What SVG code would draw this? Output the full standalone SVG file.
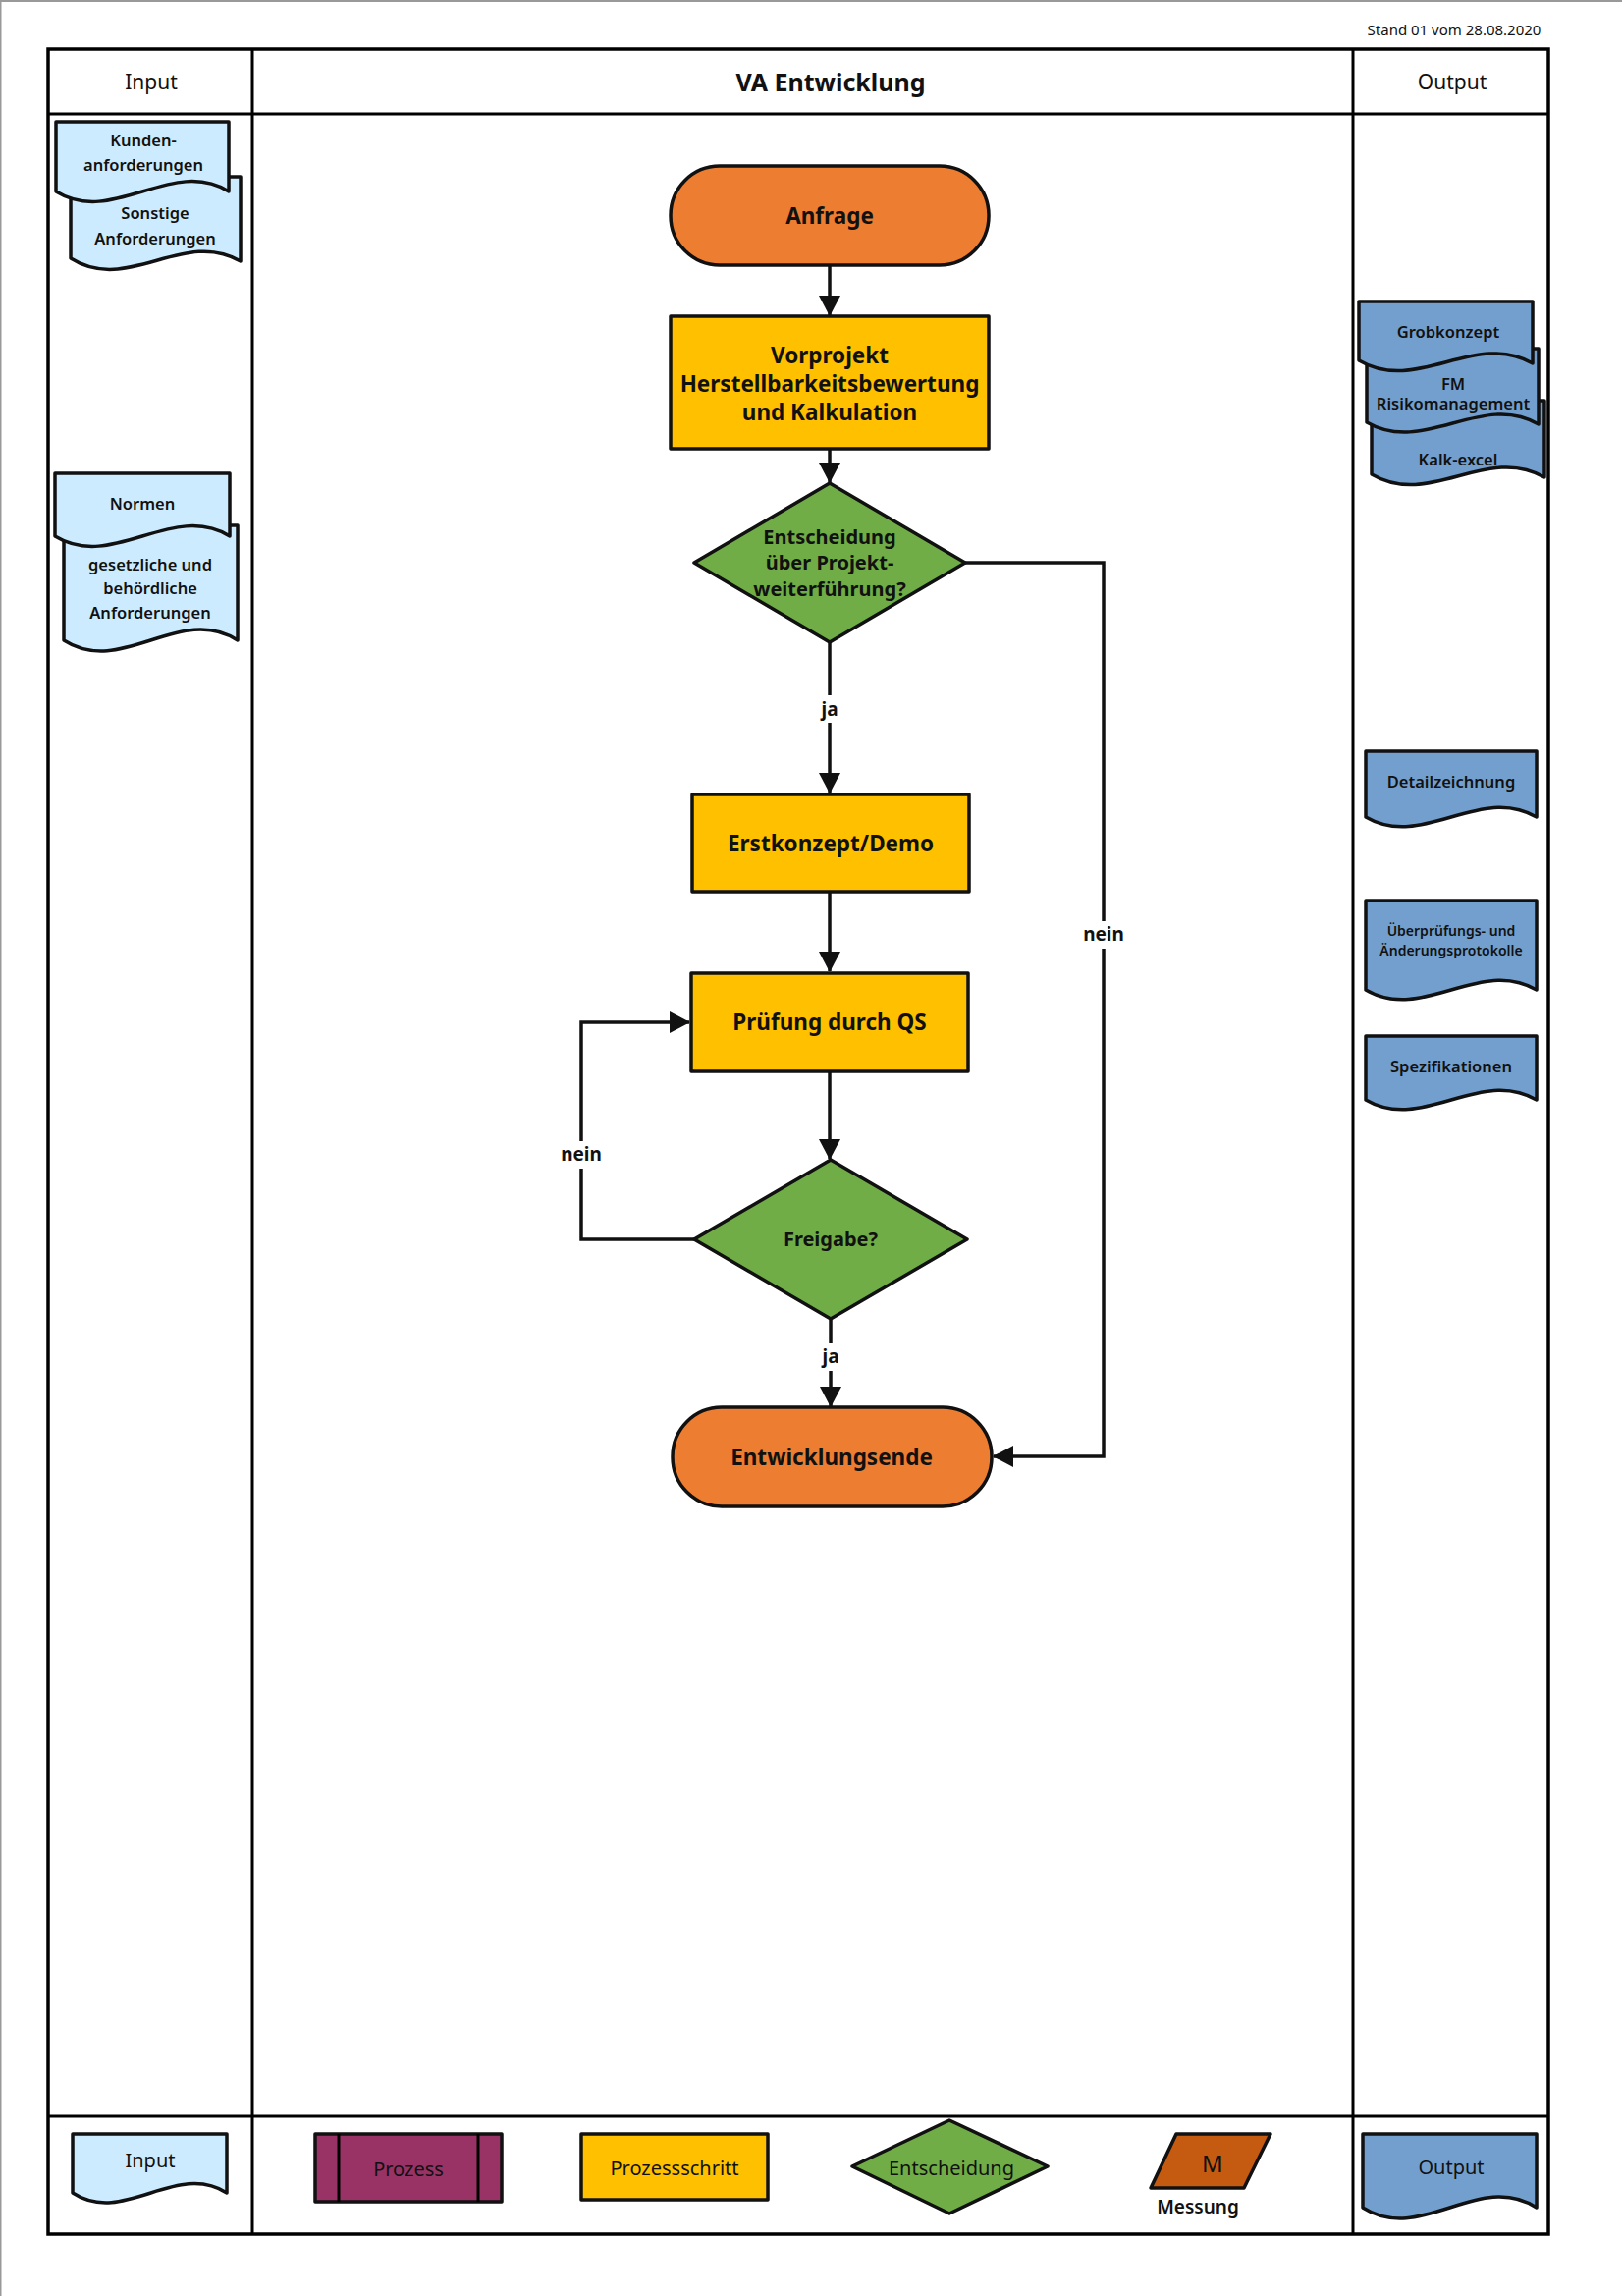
<svg xmlns="http://www.w3.org/2000/svg" width="1652" height="2338" viewBox="0 0 1652 2338">
<defs>
<marker id="arr" markerUnits="userSpaceOnUse" markerWidth="22" markerHeight="22" refX="20" refY="11" orient="auto">
<path d="M0,0 L21,11 L0,22 Z" fill="#111"/>
</marker>
</defs>
<style>
.frame{fill:none;stroke:#000;stroke-width:3.5}
.ln{fill:none;stroke:#000;stroke-width:3}
.node{stroke:#111;stroke-width:3.5;stroke-linejoin:round}
.term{fill:#ED7D31}
.step{fill:#FFC000}
.dec{fill:#70AD47}
.in{fill:#CDEBFF}
.out{fill:#729FCD}
.proc{fill:#993366}
.meas{fill:#C55A11}
.con{fill:none;stroke:#111;stroke-width:3.5}
text{font-family:"Noto Sans","Open Sans","DejaVu Sans",sans-serif;fill:#111;text-anchor:middle;dominant-baseline:central}
.t1{font-size:22.5px;font-weight:700}
.t2{font-size:20px;font-weight:700}
.lab{font-size:19px;font-weight:700}
.doc{font-size:16.5px;font-weight:600}
.docs{font-size:14px;font-weight:600}
.hd{font-size:21px}
.leg{font-size:20px}
</style>
<rect x="0" y="0" width="1652" height="2338" fill="#fff"/>
<path d="M0.5,2338 V1 H1652" fill="none" stroke="#999" stroke-width="2"/>
<text x="1481" y="30" style="font-size:15px">Stand 01 vom 28.08.2020</text>

<g id="swimlanes">
<rect class="frame" x="49" y="50" width="1528" height="2225"/>
<line class="ln" x1="49" y1="116" x2="1577" y2="116"/>
<line class="ln" x1="49" y1="2155" x2="1577" y2="2155"/>
<line class="ln" x1="257" y1="50" x2="257" y2="2275"/>
<line class="ln" x1="1378" y1="50" x2="1378" y2="2275"/>
<text class="hd" x="154" y="83">Input</text>
<text class="hd" x="846" y="83" style="font-weight:700;font-size:25px">VA Entwicklung</text>
<text class="hd" x="1479" y="83">Output</text>
</g>

<g id="input-sonstige">
<path class="node in" d="M72,180 H245 V266 C187,232 130,300 72,263 Z"/>
<text class="doc" x="158" y="216">Sonstige</text>
<text class="doc" x="158" y="242">Anforderungen</text>
</g>
<g id="input-kunden">
<path class="node in" d="M57,124 H233 V195 C175,159 115,231 57,195 Z"/>
<text class="doc" x="146" y="142">Kunden-</text>
<text class="doc" x="146" y="167">anforderungen</text>
</g>
<g id="input-gesetzlich">
<path class="node in" d="M65,535 H242 V652 C183,614 124,690 65,652 Z"/>
<text class="doc" x="153" y="574">gesetzliche und</text>
<text class="doc" x="153" y="598">behördliche</text>
<text class="doc" x="153" y="623">Anforderungen</text>
</g>
<g id="input-normen">
<path class="node in" d="M56,482 H234 V546 C175,510 115,582 56,546 Z"/>
<text class="doc" x="145" y="512">Normen</text>
</g>

<g id="output-kalk">
<path class="node out" d="M1397,408 H1573 V486 C1514,452 1456,518 1397,483 Z"/>
<text class="doc" x="1485" y="467">Kalk-excel</text>
</g>
<g id="output-fm">
<path class="node out" d="M1392,355 H1567 V432 C1509,398 1450,464 1392,430 Z"/>
<text class="doc" x="1480" y="390">FM</text>
<text class="doc" x="1480" y="410">Risikomanagement</text>
</g>
<g id="output-grobkonzept">
<path class="node out" d="M1384,307 H1561 V370 C1502,336 1443,402 1384,367 Z"/>
<text class="doc" x="1475" y="337">Grobkonzept</text>
</g>
<g id="output-detail">
<path class="node out" d="M1391,765 H1565 V832 C1507,798 1449,866 1391,832 Z"/>
<text class="doc" x="1478" y="795">Detailzeichnung</text>
</g>
<g id="output-protokolle">
<path class="node out" d="M1391,917 H1565 V1008 C1507,974 1449,1042 1391,1008 Z"/>
<text class="docs" x="1478" y="947">Überprüfungs- und</text>
<text class="docs" x="1478" y="967">Änderungsprotokolle</text>
</g>
<g id="output-spez">
<path class="node out" d="M1391,1055 H1565 V1120 C1507,1086 1449,1154 1391,1120 Z"/>
<text class="doc" x="1478" y="1085">Spezifikationen</text>
</g>

<g id="connectors">
<path class="con" d="M845,270 V321" marker-end="url(#arr)"/>
<path class="con" d="M845,457 V491" marker-end="url(#arr)"/>
<path class="con" d="M845,654 V807" marker-end="url(#arr)"/>
<path class="con" d="M845,908 V989" marker-end="url(#arr)"/>
<path class="con" d="M845,1091 V1180" marker-end="url(#arr)"/>
<path class="con" d="M846,1343 V1432" marker-end="url(#arr)"/>
<path class="con" d="M707,1262 H592 V1041 H702" marker-end="url(#arr)"/>
<path class="con" d="M983,573 H1124 V1483 H1012" marker-end="url(#arr)"/>
<rect x="832" y="708" width="26" height="28" fill="#fff"/>
<text class="lab" x="845" y="722">ja</text>
<rect x="832" y="1368" width="28" height="28" fill="#fff"/>
<text class="lab" x="846" y="1381">ja</text>
<rect x="569" y="1162" width="46" height="28" fill="#fff"/>
<text class="lab" x="592" y="1175">nein</text>
<rect x="1101" y="938" width="46" height="28" fill="#fff"/>
<text class="lab" x="1124" y="951">nein</text>
</g>

<g id="anfrage">
<rect class="node term" x="683" y="169" width="324" height="101" rx="50"/>
<text class="t1" x="845" y="219">Anfrage</text>
</g>
<g id="vorprojekt">
<rect class="node step" x="683" y="322" width="324" height="135"/>
<text class="t1" x="845" y="361">Vorprojekt</text>
<text class="t1" x="845" y="390">Herstellbarkeitsbewertung</text>
<text class="t1" x="845" y="419">und Kalkulation</text>
</g>
<g id="entscheidung">
<polygon class="node dec" points="845,492 983,573 845,654 707,573"/>
<text class="t2" x="845" y="546">Entscheidung</text>
<text class="t2" x="845" y="572">über Projekt-</text>
<text class="t2" x="845" y="599">weiterführung?</text>
</g>
<g id="erstkonzept">
<rect class="node step" x="705" y="809" width="282" height="99"/>
<text class="t1" x="846" y="858">Erstkonzept/Demo</text>
</g>
<g id="pruefung">
<rect class="node step" x="704" y="991" width="282" height="100"/>
<text class="t1" x="845" y="1040">Prüfung durch QS</text>
</g>
<g id="freigabe">
<polygon class="node dec" points="846,1181 985,1262 846,1343 707,1262"/>
<text class="t2" x="846" y="1261">Freigabe?</text>
</g>
<g id="entwicklungsende">
<rect class="node term" x="685" y="1433" width="325" height="101" rx="50"/>
<text class="t1" x="847" y="1483">Entwicklungsende</text>
</g>

<g id="legend-input">
<path class="node in" d="M74,2173 H231 V2233 C179,2200 126,2267 74,2233 Z"/>
<text class="leg" x="153" y="2199">Input</text>
</g>
<g id="legend-prozess">
<rect class="node proc" x="321" y="2173" width="190" height="69"/>
<line class="ln" x1="345" y1="2173" x2="345" y2="2242" stroke-width="3.5"/>
<line class="ln" x1="487" y1="2173" x2="487" y2="2242" stroke-width="3.5"/>
<text class="leg" x="416" y="2208">Prozess</text>
</g>
<g id="legend-prozessschritt">
<rect class="node step" x="592" y="2173" width="190" height="67"/>
<text class="leg" x="687" y="2207">Prozessschritt</text>
</g>
<g id="legend-entscheidung">
<polygon class="node dec" points="967,2159 1067,2206 967,2254 868,2206"/>
<text class="leg" x="969" y="2207">Entscheidung</text>
</g>
<g id="legend-messung">
<polygon class="node meas" points="1198,2173 1294,2173 1267,2228 1172,2228"/>
<text class="leg" x="1235" y="2202" style="font-size:24px">M</text>
<text class="leg" x="1220" y="2247" style="font-weight:600;font-size:19px">Messung</text>
</g>
<g id="legend-output">
<path class="node out" d="M1388,2173 H1565 V2248 C1506,2210 1447,2286 1388,2248 Z"/>
<text class="leg" x="1478" y="2206">Output</text>
</g>
</svg>
